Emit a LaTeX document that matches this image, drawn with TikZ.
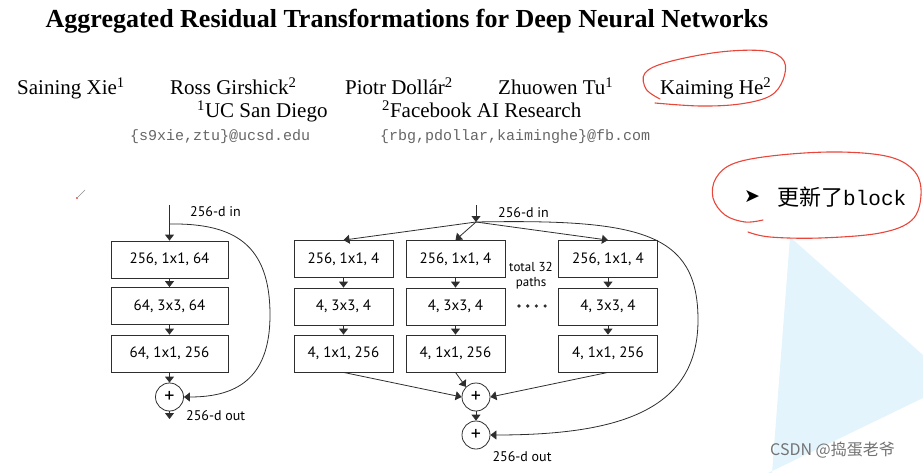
\documentclass[tikz,border=0pt]{standalone}
\usepackage{fontspec}
\setmainfont{Liberation Serif}
\setmonofont{Liberation Mono}
\newfontfamily\boxfont{PT Sans}
\newfontfamily\cjk{Noto Sans CJK SC}
\newfontfamily\symfont{DejaVu Sans}
\usetikzlibrary{arrows.meta}
\definecolor{lnc}{HTML}{2E2E2E}
\definecolor{penred}{HTML}{E8463A}
\definecolor{tri}{HTML}{E4F4FC}
\tikzset{
  blk/.style={draw=lnc, line width=0.8pt, minimum height=37pt, inner sep=0pt, font=\boxfont\fontsize{15}{17}\selectfont},
  blkl/.style={blk, minimum width=117pt},
  blkr/.style={blk, minimum width=99pt},
  sumc/.style={draw=lnc, line width=0.8pt, circle, minimum size=28pt, inner sep=0pt, font=\boxfont\fontsize{20}{20}\selectfont},
  arr/.style={draw=lnc, line width=0.8pt, -{Triangle[width=9pt,length=6pt]}},
  lbl/.style={font=\boxfont\fontsize{14}{16}\selectfont, inner sep=0pt},
  auth/.style={font=\fontsize{21}{24}\selectfont, anchor=base west, inner sep=0pt},
  mail/.style={font=\ttfamily\fontsize{15}{17}\selectfont, text=black!60, anchor=base west, inner sep=0pt},
  redpen/.style={draw=penred, line width=1.1pt, line cap=round, line join=round}
}
\begin{document}
\begin{tikzpicture}[x=1pt,y=-1pt]
\useasboundingbox (0,0) rectangle (923,473);
% light blue background triangle
\fill[tri] (790,237) -- (923,355) -- (923,398) -- (768,473) -- (772,473) -- cycle;
% title
\node[font=\bfseries\fontsize{26}{30}\selectfont, anchor=base, inner sep=0pt] (title) at (407,28) {Aggregated Residual Transformations for Deep Neural Networks};
% authors
\node[auth] (a1) at (17,95) {Saining Xie\textsuperscript{1}};
\node[auth] (a2) at (170,95) {Ross Girshick\textsuperscript{2}};
\node[auth] (a3) at (345,95) {Piotr Dollár\textsuperscript{2}};
\node[auth] (a4) at (498,95) {Zhuowen Tu\textsuperscript{1}};
\node[auth] (a5) at (660,95) {Kaiming He\textsuperscript{2}};
\node[auth] (f1) at (197,118) {\textsuperscript{1}UC San Diego};
\node[auth] (f2) at (382,118) {\textsuperscript{2}Facebook AI Research};
\node[mail] (m1) at (130,141) {\{s9xie,ztu\}@ucsd.edu};
\node[mail] (m2) at (380,141) {\{rbg,pdollar,kaiminghe\}@fb.com};
% red hand-drawn marks
\draw[redpen] plot[smooth, tension=0.6] coordinates {(660,99) (646,89) (645,73) (668,62) (720,52) (765,51) (784,61) (783,80) (770,96) (740,104) (700,106) (655,103)};
\draw[redpen] plot[smooth, tension=0.6] coordinates {(763,220) (745,222) (725,215) (713,198) (716,178) (735,163) (780,155) (840,152) (890,157) (915,172) (921,195) (912,220) (880,233) (820,238) (770,237) (748,232)};
\node[font=\symfont\fontsize{19}{21}\selectfont, inner sep=0pt] (bul) at (752,197) {➤};
\node[anchor=base west, inner sep=0pt] (upd) at (777,205) {{\cjk\fontsize{22}{24}\selectfont 更新了}{\ttfamily\fontsize{21}{24}\selectfont block}};
% small pen cursor
\draw[black!45, line width=0.6pt] (78,197) -- (85,190);
\fill[penred] (77,198) circle (1.2);
% ===== left block =====
\coordinate (lin) at (169.5,205);
\coordinate (lsk) at (169.5,224);
\node[blkl] (l1) at (169.5,259.5) {256, 1x1, 64};
\node[blkl] (l2) at (169.5,306) {64, 3x3, 64};
\node[blkl] (l3) at (169.5,353.5) {64, 1x1, 256};
\node[sumc] (lp) at (169.5,397) {+};
\coordinate (lout) at (169.5,419);
\draw[arr] (lin) -- (l1);
\draw[arr] (l1) -- (l2);
\draw[arr] (l2) -- (l3);
\draw[arr] (l3) -- (lp);
\draw[arr] (lp) -- (lout);
\draw[arr] (lsk) .. controls (235,223) and (270,245) .. (270,315) .. controls (270,380) and (235,397) .. (lp.east);
\node[lbl, anchor=west] (lin-t) at (190,212) {256-d in};
\node[lbl, anchor=west] (lout-t) at (186,416) {256-d out};
% ===== right block =====
\coordinate (rin) at (476,205);
\coordinate (rs) at (476,222);
\foreach \c/\x in {1/343.5,2/455.5,3/608}{
  \node[blkr] (r\c1) at (\x,259) {256, 1x1, 4};
  \node[blkr] (r\c2) at (\x,306.5) {4, 3x3, 4};
  \node[blkr] (r\c3) at (\x,353.5) {4, 1x1, 256};
  \draw[arr] (r\c1) -- (r\c2);
  \draw[arr] (r\c2) -- (r\c3);
}
\node[sumc] (rp1) at (476,397) {+};
\node[sumc] (rp2) at (476,435) {+};
\draw[arr] (rin) -- (rs);
\draw[arr] (rs) -- (r11.north);
\draw[arr] (rs) -- (r21.north);
\draw[arr] (rs) -- (r31.north);
\draw[arr] (r13.south) -- (rp1.west);
\draw[arr] (r23.south) -- (rp1.north west);
\draw[arr] (r33.south) -- (rp1.east);
\draw[arr] (rp1) -- (rp2);
\draw[arr] (rs) .. controls (640,219) and (698,232) .. (698,320) .. controls (698,410) and (620,435) .. (rp2.east);
\node[lbl, anchor=west] (rin-t) at (498,213) {256-d in};
\node[lbl] (rout-t) at (522,457) {256-d out};
\node[lbl, align=center, font=\boxfont\fontsize{13}{15}\selectfont] (tot) at (531,275.5) {total 32\\paths};
\foreach \i in {0,1,2,3}{ \fill[lnc] (519+\i*8.7,306) circle (1.8); }
% watermark
\node[anchor=west, inner sep=0pt, text=black!55, font=\cjk\fontsize{16}{18}\selectfont] (wm) at (770,450) {CSDN @捣蛋老爷};
\end{tikzpicture}
\end{document}
